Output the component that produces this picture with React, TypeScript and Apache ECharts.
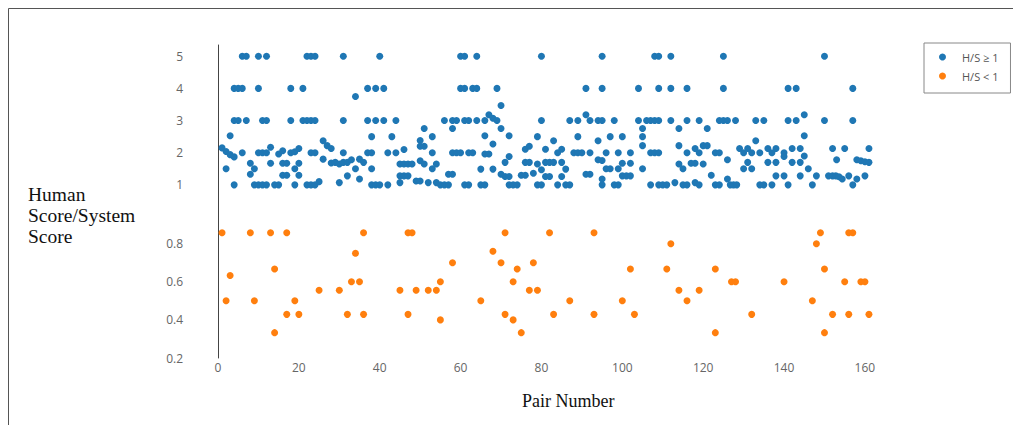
import React, { useEffect, useRef } from "react";
import * as echarts from "echarts";

// Pair number / ratio for pairs where Human score / System score >= 1
const highRatioPoints: [number, number][] = [
  [1, 2.15], [2, 2.04], [3, 1.94], [4, 1.87], [2, 1.5], [3, 2.53], [4, 1],
  [4, 4], [5, 4], [6, 4], [10, 4], [18, 4], [21, 4],
  [6, 5], [7, 5], [10, 5], [12, 5], [22, 5], [23, 5], [24, 5], [31, 5], [40, 5],
  [4, 3], [5, 3], [7, 3], [11, 3], [12, 3], [18, 3], [21, 3], [22, 3], [23, 3], [24, 3], [31, 3],
  [6, 2], [8, 1.67], [9, 1.5], [8, 1.33], [10, 2], [11, 2], [12, 2], [13, 2.17], [13, 1.67],
  [15, 1.96], [16, 2.06], [16, 1.67], [17, 1.67], [16, 1.3], [17, 1.3], [18, 2], [19, 2.03],
  [20, 2.13], [19, 1.5], [20, 1.67], [20, 1.3], [23, 2], [24, 2], [26, 2.37], [27, 2.22],
  [28, 2.13], [31, 2], [26, 1.8], [28, 1.68], [29, 1.7], [30, 1.65], [31, 1.7],
  [9, 1], [10, 1], [11, 1], [12, 1], [14, 1], [15, 1], [19, 1], [22, 1], [23, 1], [24, 1], [25, 1.1], [30, 1.07],
  [37, 4], [39, 4], [41, 4], [34, 3.75],
  [37, 3], [39, 3], [41, 3], [44, 3], [56, 3],
  [51, 2.75], [58, 2.75], [38, 2.5], [43, 2.5], [50, 2.38], [53, 2.5], [46, 2.1], [50, 2.2], [51, 2.2],
  [37, 2], [38, 2], [42, 2], [44, 2], [53, 2],
  [32, 1.7], [33, 1.78], [35, 1.8], [36, 1.7], [45, 1.65], [46, 1.65], [47, 1.65], [48, 1.65],
  [50, 1.75], [51, 1.65], [54, 1.65], [34, 1.5], [38, 1.5], [53, 1.5],
  [32, 1.28], [35, 1.18], [45, 1.28], [46, 1.28], [47, 1.28], [49, 1.12], [50, 1.12], [57, 1.33], [58, 1.33],
  [38, 1], [39, 1], [40, 1], [42, 1], [45, 1.07], [52, 1.07], [54, 1.07], [55, 1], [56, 1], [57, 1],
  [60, 5], [61, 5], [64, 5], [60, 4], [61, 4], [63, 4], [64, 4], [69, 4],
  [58, 3], [59, 3], [61, 3], [62, 3], [64, 3], [66, 3],
  [58, 2], [59, 2], [60, 2], [62, 2], [63, 2],
  [61, 1], [62, 1], [65, 1], [66, 1],
  [70, 3.47], [67, 3.18], [68, 3.07], [69, 3], [80, 3], [87, 3], [89, 3], [91, 3.18], [92, 3], [94, 3], [95, 3],
  [80, 5], [95, 5], [91, 4], [95, 4], [70, 2.75],
  [66, 2.53], [72, 2.53], [79, 2.5], [89, 2.5], [68, 2.27], [83, 2.37], [94, 2.37],
  [76, 2.11], [77, 2.2], [81, 2.11], [85, 2.11],
  [66, 1.96], [67, 1.96], [84, 2], [88, 2], [89, 2], [90, 2], [92, 2],
  [72, 1.88], [71, 1.7], [76, 1.7], [77, 1.7], [79, 1.65], [81, 1.7], [82, 1.7], [83, 1.7], [85, 1.7], [94, 1.78], [95, 1.76],
  [65, 1.49], [68, 1.49], [80, 1.47], [86, 1.49],
  [70, 1.33], [71, 1.26], [72, 1.26], [75, 1.3], [76, 1.3], [78, 1.36], [81, 1.26], [82, 1.26], [85, 1.26], [91, 1.33], [92, 1.33], [95, 1.18],
  [72, 1], [73, 1], [74, 1], [79, 1], [80, 1], [84, 1], [86, 1], [87, 1], [95, 1],
  [108, 5], [109, 5], [112, 5], [125, 5],
  [104, 4], [109, 4], [112, 4], [116, 4], [125, 4],
  [98, 3], [104, 3], [106, 3], [107, 3], [108, 3], [109, 3], [112, 3], [116, 3], [119, 3], [124, 3], [125, 3], [126, 3], [128, 3],
  [105, 2.75], [114, 2.75], [121, 2.75], [97, 2.5], [100, 2.5], [105, 2.5],
  [105, 2.22], [114, 2.22], [118, 2.13], [120, 2.22], [121, 2.22],
  [96, 2], [99, 2], [102, 2], [107, 2], [108, 2], [109, 2], [116, 2], [119, 2], [123, 2], [124, 2],
  [126, 1.78], [100, 1.67], [102, 1.67], [114, 1.65], [117, 1.67], [118, 1.67], [120, 1.65],
  [96, 1.5], [97, 1.5], [99, 1.5], [105, 1.5], [115, 1.5],
  [100, 1.28], [101, 1.28], [102, 1.28], [122, 1.3], [126, 1.18],
  [98, 1], [99, 1], [107, 1], [109, 1], [110, 1], [111, 1], [113, 1.07], [115, 1], [116, 1], [118, 1.07], [119, 1],
  [123, 1], [124, 1], [126.7, 1], [127.5, 1], [128.3, 1],
  [150, 5], [141, 4], [143, 4], [157, 4], [145, 3.18],
  [133, 3], [135, 3], [141, 3], [143, 3], [150, 3], [157, 3],
  [133, 2.37], [145, 2.53],
  [129, 2.13], [131, 2.13], [136, 2.13], [138, 2.13], [142, 2.13], [144, 2.13], [152, 2.13], [155, 2.13], [161, 2.13],
  [130, 2], [132, 2], [134, 2], [137, 2], [140, 2], [145, 1.9], [140, 1.88],
  [131, 1.7], [136, 1.7], [138, 1.7], [142, 1.7], [144, 1.7], [153, 1.78], [158, 1.78], [159, 1.75], [160, 1.72], [161, 1.7],
  [130, 1.5], [132, 1.5], [146, 1.5],
  [138, 1.28], [140, 1.28], [144, 1.28], [148, 1.28], [151, 1.28], [152, 1.28], [152.8, 1.28], [153.6, 1.25], [154.4, 1.18],
  [156, 1.28], [158, 1.18], [160, 1.28],
  [134, 1], [135, 1], [137, 1], [141, 1], [147, 1], [157, 1],
];

// Pair number / ratio for pairs where Human score / System score < 1
const lowRatioPoints: [number, number][] = [
  [1, 0.857], [2, 0.5], [3, 0.633], [8, 0.857], [9, 0.5], [13, 0.857], [14, 0.667], [14, 0.333],
  [17, 0.857], [17, 0.429], [19, 0.5], [20, 0.429], [25, 0.556], [30, 0.556], [32, 0.429], [33, 0.6],
  [34, 0.75], [35, 0.6], [36, 0.857], [36, 0.429], [45, 0.556], [47, 0.857], [48, 0.857], [47, 0.429],
  [49, 0.556], [52, 0.556], [54, 0.556], [55, 0.6], [55, 0.4], [58, 0.7], [65, 0.5], [68, 0.76],
  [70, 0.7], [71, 0.857], [71, 0.429], [73, 0.6], [73, 0.4], [74, 0.667], [75, 0.333], [77, 0.556],
  [78, 0.7], [79, 0.556], [82, 0.857], [83, 0.429], [87, 0.5], [93, 0.857], [93, 0.429], [100, 0.5],
  [102, 0.667], [103, 0.429], [111, 0.667], [112, 0.8], [114, 0.556], [116, 0.5], [119, 0.556],
  [123, 0.667], [123, 0.333], [127, 0.6], [128, 0.6], [132, 0.429], [140, 0.6], [147, 0.5], [148, 0.8],
  [149, 0.857], [150, 0.667], [150, 0.333], [152, 0.429], [155, 0.6], [156, 0.857], [157, 0.857],
  [156, 0.429], [159, 0.6], [160, 0.6], [161, 0.429],
];

const seriesNames = ["H/S \u2265 1", "H/S < 1"];
const xTitle = "Pair Number";
const yTitle = "Human\nScore/System\nScore";

export default function App() {
  const ref = useRef<HTMLDivElement>(null);
  useEffect(() => {
    if (!ref.current) return;
    const chart = echarts.init(ref.current, undefined, { renderer: "svg" });
    const tickLabel = { color: "#666", fontSize: 12, fontFamily: "Open Sans" };
    chart.setOption({
      animation: false,
      backgroundColor: "#fff",
      grid: [
        { left: 218, top: 45, width: 655, height: 172 },
        { left: 218, top: 217, width: 655, height: 141 },
      ],
      xAxis: [
        { gridIndex: 0, type: "value", min: 0, max: 162, show: false },
        {
          gridIndex: 1, type: "value", min: 0, max: 162, interval: 20,
          axisLine: { show: false }, axisTick: { show: false }, splitLine: { show: false },
          axisLabel: { ...tickLabel, showMaxLabel: false, margin: 3 },
        },
      ],
      yAxis: [
        {
          gridIndex: 0, type: "value", min: 0, max: 5.35, interval: 1,
          axisLine: { show: true, lineStyle: { color: "#444", width: 1 } },
          axisTick: { show: false }, splitLine: { show: false },
          axisLabel: { ...tickLabel, showMinLabel: false, showMaxLabel: false, margin: 35 },
        },
        {
          gridIndex: 1, type: "value", min: 0.2, max: 0.94, interval: 0.2,
          axisLine: { show: true, lineStyle: { color: "#444", width: 1 } },
          axisTick: { show: false }, splitLine: { show: false },
          axisLabel: { ...tickLabel, showMaxLabel: false, margin: 35 },
        },
      ],
      legend: {
        left: 924, top: 43, orient: "vertical",
        padding: [7, 12, 10, 15],
        itemWidth: 7, itemHeight: 7, itemGap: 5,
        borderColor: "#888", borderWidth: 1,
        textStyle: { fontSize: 11, color: "#555", fontFamily: "Open Sans", lineHeight: 14, padding: [0, 0, 0, 11] },
        data: [
          { name: seriesNames[0], icon: "circle" },
          { name: seriesNames[1], icon: "circle" },
        ],
      },
      graphic: [
        {
          type: "rect", silent: true,
          shape: { x: 8.5, y: 8.5, width: 1100, height: 600 },
          style: { fill: "none", stroke: "#555", lineWidth: 1 },
        },
        {
          type: "text", left: 28, top: 184,
          style: {
            text: yTitle, font: "19.5px 'Liberation Serif'", fill: "#111", lineHeight: 21,
          },
        },
        {
          type: "text", left: 522, top: 392,
          style: { text: xTitle, font: "18px 'Liberation Serif'", fill: "#111" },
        },
      ],
      series: [
        {
          name: seriesNames[0], type: "scatter", xAxisIndex: 0, yAxisIndex: 0,
          data: highRatioPoints, symbolSize: 7,
          itemStyle: { color: "#1f77b4", opacity: 1 },
        },
        {
          name: seriesNames[1], type: "scatter", xAxisIndex: 1, yAxisIndex: 1,
          data: lowRatioPoints, symbolSize: 7,
          itemStyle: { color: "#ff7f0e", opacity: 1 },
        },
      ],
    });
    return () => chart.dispose();
  }, []);
  return (
    <div
      ref={ref}
      style={{ position: "fixed", left: 0, top: 0, width: 1013, height: 425 }}
    />
  );
}
